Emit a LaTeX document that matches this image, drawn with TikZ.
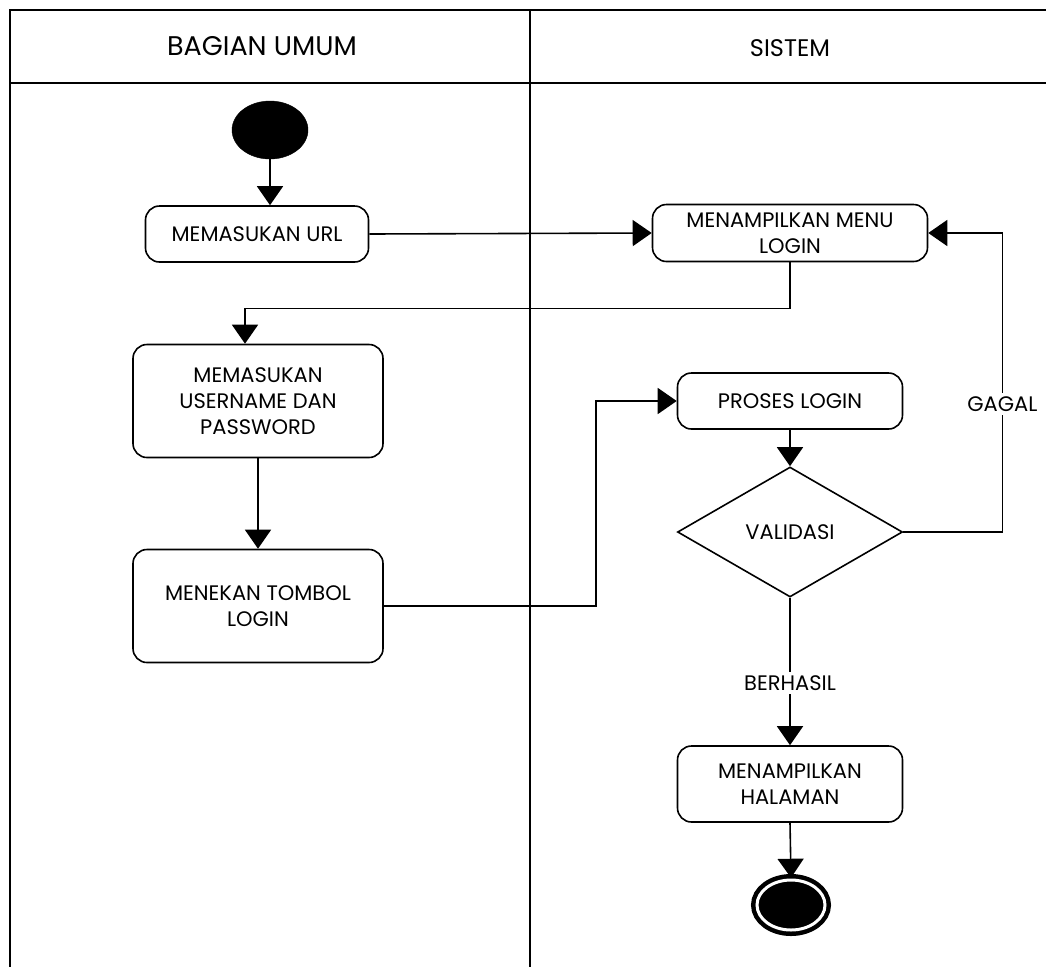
\documentclass[tikz,border=0pt]{standalone}
\usepackage{fontspec}
\setmainfont{Poppins}
\usetikzlibrary{arrows.meta,shapes.geometric}

\tikzset{
	act/.style={draw, rounded corners=14pt, line width=1.6pt, align=center,
		font=\fontsize{21}{26}\selectfont},
	flow/.style={line width=1.6pt, -{Triangle[width=26pt,length=19pt]}},
}

\begin{document}
\begin{tikzpicture}[x=1pt, y=-1pt]
\useasboundingbox (0,0) rectangle (1046,967);

%Swimlanes
\draw[line width=2pt] (1046,10) -- (10,10) -- (10,967);
\draw[line width=2pt] (10,83) -- (1046,83);
\draw[line width=2pt] (530,10) -- (530,967);
\node []  (lanea)at (262,46) {\fontsize{27}{30}\selectfont BAGIAN UMUM};
\node []  (laneb)at (790,48) {\fontsize{24}{28}\selectfont SISTEM};

%Start
\node [draw, fill=black, ellipse,
	minimum width=76pt,
	minimum height=58pt,
]  (start)at (270,130) {};

%Bagian Umum
\node [act,
	minimum width=223pt,
	minimum height=56pt,
]  (urlbox)at (257,234) {MEMASUKAN URL};
\node [act,
	minimum width=250pt,
	minimum height=113pt,
]  (userbox)at (258,401) {MEMASUKAN\\USERNAME DAN\\PASSWORD};
\node [act,
	minimum width=250pt,
	minimum height=113pt,
]  (tombolbox)at (258,606) {MENEKAN TOMBOL\\LOGIN};

%Sistem
\node [act,
	minimum width=275pt,
	minimum height=57pt,
	inner sep=2pt,
]  (menubox)at (790,233) {MENAMPILKAN MENU\\LOGIN};
\node [act,
	minimum width=225pt,
	minimum height=56pt,
]  (prosesbox)at (790,401) {PROSES LOGIN};
\node [draw, diamond, aspect=1.73, inner sep=0pt, line width=1.6pt,
	minimum width=225pt,
	minimum height=130pt,
	font=\fontsize{21}{26}\selectfont,
]  (validbox)at (790,532) {VALIDASI};
\node [act,
	minimum width=225pt,
	minimum height=76pt,
	inner sep=2pt,
]  (halbox)at (790,784) {MENAMPILKAN\\HALAMAN};

%End
\node [draw, fill=black, ellipse, line width=4.5pt, double=white, double distance=3pt,
	minimum width=68pt,
	minimum height=50pt,
]  (end)at (791,905) {};

%Flows
\draw[flow] (start.south) -- (start.south |- urlbox.north);
\draw[flow] (urlbox.east) -- (menubox.west);
\draw[flow] (menubox.south) -- ++(0,46) -| ([xshift=-13pt]userbox.north);
\draw[flow] (userbox.south) -- (tombolbox.north);
\draw[flow] (tombolbox.east) -- ++(212,0) |- (prosesbox.west);
\draw[flow] (prosesbox.south) -- (validbox.north);
\draw[flow] (validbox.east) -- ++(99,0) |- node[pos=0.214, fill=white,
	font=\fontsize{21}{26}\selectfont] (gagal) {GAGAL} (menubox.east);
\draw[flow] (validbox.south) -- node[pos=0.58, fill=white,
	font=\fontsize{21}{26}\selectfont] (berhasil) {BERHASIL} (halbox.north);
\draw[flow] (halbox.south) -- (end.north);

\end{tikzpicture}
\end{document}
